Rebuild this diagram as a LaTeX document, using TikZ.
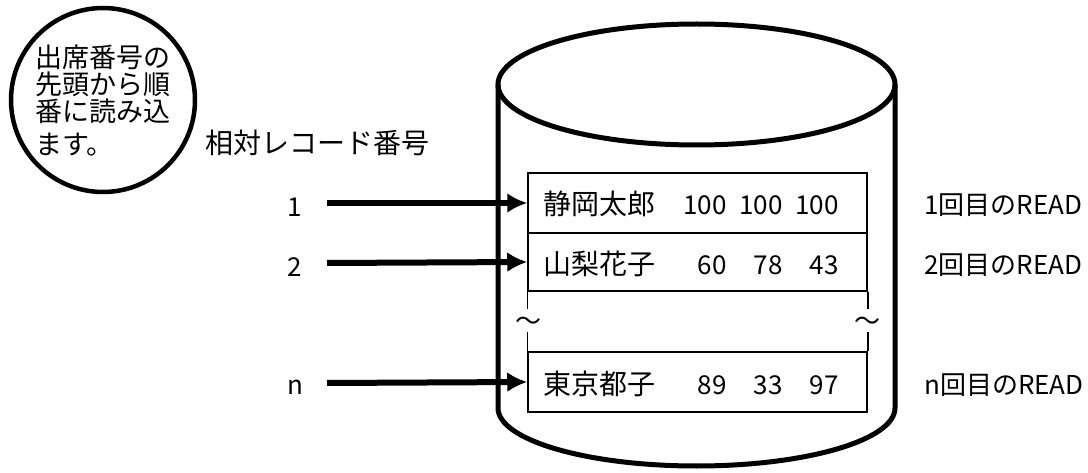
\documentclass[tikz,border=0pt]{standalone}
\usepackage{fontspec}
\setmainfont{Noto Sans CJK JP}
\usetikzlibrary{positioning}
\usetikzlibrary{arrows.meta, shapes, calc}

\begin{document}
\begin{tikzpicture}[x=1pt, y=-1pt, >={Latex[length=20pt,width=20pt]}, font=\fontsize{26}{27}\selectfont]%
            \tikzstyle{rec} = [ rectangle, draw = black, line width = 1.5pt, minimum width = 339pt, inner sep = 0pt]
            \tikzstyle{txt} = [ anchor = base west, inner sep = 0pt]
            \tikzstyle{big} = [ font = \fontsize{28}{29}\selectfont]
            \tikzstyle{num} = [ anchor = base east, inner sep = 0pt]
            \tikzstyle{idx} = [ anchor = base, inner sep = 0pt]
            \tikzstyle{post} = [ ->, line width = 6pt]
            \tikzstyle{wall} = [ line width = 5pt]
            \tikzstyle{thin} = [ line width = 1.5pt]
            \tikzstyle{note} = [ circle, draw = black, line width = 4.5pt, minimum size = 184pt, inner sep = 0pt, align = left, font = \fontsize{27}{27}\selectfont]
            \useasboundingbox (0,0) rectangle (1088,473);
        %%
            %% Note and heading
            \node [note] (note) at (103,100) {出席番号の\\先頭から順\\番に読み込\\[6pt]ます。};
            \node [txt, big] (head) at (205,154) {相対レコード番号};

            %% Disk
            \draw [wall] (696.5,84.5) ellipse [x radius = 198.5pt, y radius = 60.5pt];
            \draw [wall] (498,84.5) -- (498,408) arc [start angle = 180, end angle = 360, x radius = 198.5pt, y radius = 58pt] -- (895,84.5);

            %% Records
            \node [rec, minimum height = 60pt] (rec1) at (697.5,203) {};
            \node [rec, minimum height = 58pt] (rec2) at (697.5,262) {};
            \node [rec, minimum height = 60pt] (recn) at (697.5,382) {};
            \draw [thin] (rec2.south west) -- ++(0,17);
            \draw [thin] (rec2.south east) -- ++(0,17);
            \draw [thin] (recn.north west) -- ++(0,-19);
            \draw [thin] (recn.north east) -- ++(0,-19);
            \node (cut_l) at (528,324) {〜};
            \node (cut_r) at (867,324) {〜};

            \node [txt, big] (name1) at (543,215) {静岡太郎};
            \node [num] (s11) at (727,215) {100};
            \node [num] (s12) at (783,215) {100};
            \node [num] (s13) at (839,215) {100};
            \node [txt, big] (name2) at (543,275) {山梨花子};
            \node [num] (s21) at (727,275) {60};
            \node [num] (s22) at (783,275) {78};
            \node [num] (s23) at (839,275) {43};
            \node [txt, big] (namen) at (543,395) {東京都子};
            \node [num] (sn1) at (727,395) {89};
            \node [num] (sn2) at (783,395) {33};
            \node [num] (sn3) at (839,395) {97};

            %% Relative record numbers
            \node [idx] (i1) at (295,217) {1};
            \node [idx] (i2) at (295,277) {2};
            \node [idx] (in) at (295,395) {n};
            \coordinate (a1) at (327,203);
            \coordinate (a2) at (327,263);
            \coordinate (an) at (327,383);
            \draw [post] (a1) -- (rec1.west);
            \draw [post] (a2) -- (rec2.west);
            \draw [post] (an) -- (recn.west);

            %% Reads
            \node [txt] (r1) at (924,215) {1回目のREAD};
            \node [txt] (r2) at (924,275) {2回目のREAD};
            \node [txt] (rn) at (924,395) {n回目のREAD};
        \end{tikzpicture}
\end{document}
